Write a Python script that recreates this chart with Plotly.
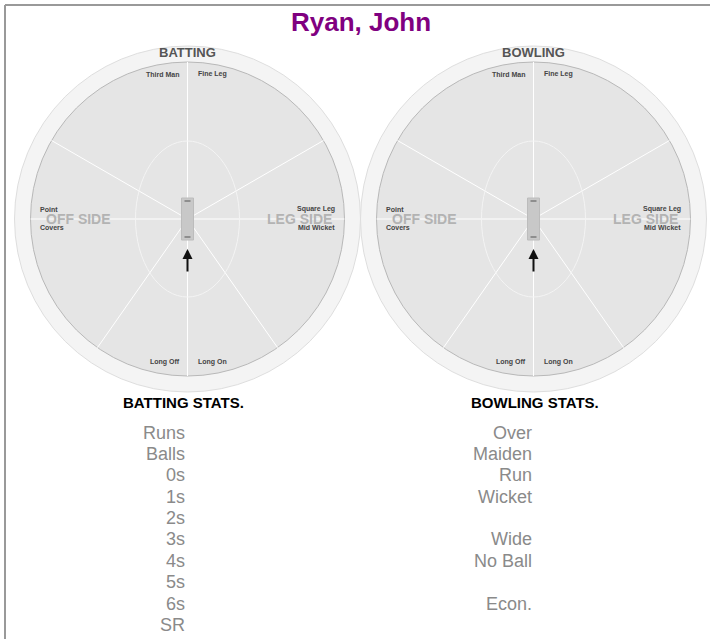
import math
import plotly.graph_objects as go

# ---------------------------------------------------------------------------
# Data
# ---------------------------------------------------------------------------
PLAYER = "Ryan, John"
PANELS = ["BATTING", "BOWLING"]

# fielding zone names
TOP_ZONES = ["Third Man", "Fine Leg"]
BOTTOM_ZONES = ["Long Off", "Long On"]
OFF_ZONES = ["Point", "Covers"]
LEG_ZONES = ["Square Leg", "Mid Wicket"]
SIDES = ["OFF SIDE", "LEG SIDE"]

# sector boundary angles (degrees, counter-clockwise from the leg side)
SECTOR_ANGLES = [90, 30, 0, -55, -90, -125, 180, 150]

BATTING_STATS = ["Runs", "Balls", "0s", "1s", "2s", "3s", "4s", "5s", "6s", "SR"]
BOWLING_STATS = ["Over", "Maiden", "Run", "Wicket", "", "Wide", "No Ball", "", "Econ."]

# ---------------------------------------------------------------------------
# Styles
# ---------------------------------------------------------------------------
FONT = "Liberation Sans, Arial, Helvetica, sans-serif"
PURPLE = "#800080"
RING = "#f4f4f4"
FIELD = "#e5e5e5"
LABEL = "#444444"
SIDE_GREY = "#b3b3b3"
STAT_GREY = "#8a8a8a"

W, H = 710, 639
CY = 219
R_OUT, R_FIELD = 173, 157
CENTRES = [187.5, 533.5]

fig = go.Figure()
shapes = []
annotations = []


def txt(x, y, s, size, color, bold=False, xanchor="center"):
    annotations.append(dict(
        x=x, y=y, text=f"<b>{s}</b>" if bold else s, showarrow=False,
        xanchor=xanchor, yanchor="middle",
        font=dict(family=FONT, size=size, color=color),
    ))


# page frame
shapes.append(dict(type="line", x0=5, x1=W, y0=5, y1=5, line=dict(color="#999999", width=2)))
shapes.append(dict(type="line", x0=5, x1=5, y0=5, y1=H, line=dict(color="#999999", width=2)))

txt(W / 2 + 6, 22, PLAYER, 26, PURPLE, bold=True)

for cx, panel in zip(CENTRES, PANELS):
    # boundary ring and field
    shapes.append(dict(type="circle", x0=cx - R_OUT, x1=cx + R_OUT, y0=CY - R_OUT, y1=CY + R_OUT,
                       fillcolor=RING, line=dict(color="#dedede", width=1)))
    shapes.append(dict(type="circle", x0=cx - R_FIELD, x1=cx + R_FIELD, y0=CY - R_FIELD, y1=CY + R_FIELD,
                       fillcolor=FIELD, line=dict(color="#b8b8b8", width=1)))
    # sector lines
    for a in SECTOR_ANGLES:
        t = math.radians(a)
        shapes.append(dict(type="line", x0=cx, y0=CY,
                           x1=cx + R_FIELD * math.cos(t), y1=CY - R_FIELD * math.sin(t),
                           line=dict(color="white", width=1)))
    # 30-yard circle
    shapes.append(dict(type="circle", x0=cx - 52, x1=cx + 52, y0=CY - 78, y1=CY + 78,
                       line=dict(color="#f4f4f4", width=1)))
    # pitch and creases
    shapes.append(dict(type="rect", x0=cx - 6, x1=cx + 6, y0=CY - 21, y1=CY + 21,
                       fillcolor="#c8c8c8", line=dict(color="#bcbcbc", width=1)))
    for dy in (-18, 18):
        shapes.append(dict(type="line", x0=cx - 3, x1=cx + 3, y0=CY + dy, y1=CY + dy,
                           line=dict(color="#555555", width=1)))
    # batting direction arrow
    annotations.append(dict(x=cx, y=CY + 30, ax=cx, ay=CY + 54, xref="x", yref="y",
                            axref="x", ayref="y", text="", showarrow=True,
                            arrowhead=2, arrowsize=1, arrowwidth=2, arrowcolor="#111111"))

    txt(cx, 52, panel, 13, "#555555", bold=True)
    txt(cx - 7, 74, TOP_ZONES[0], 7, LABEL, bold=True, xanchor="right")
    txt(cx + 8, 74, TOP_ZONES[1], 7, LABEL, bold=True, xanchor="left")
    txt(cx - 6, 362, BOTTOM_ZONES[0], 7, LABEL, bold=True, xanchor="right")
    txt(cx + 8, 362, BOTTOM_ZONES[1], 7, LABEL, bold=True, xanchor="left")
    txt(cx - 150, 209, OFF_ZONES[0], 7, LABEL, bold=True, xanchor="left")
    txt(cx - 150, 227, OFF_ZONES[1], 7, LABEL, bold=True, xanchor="left")
    txt(cx + 149, 209, LEG_ZONES[0], 7, LABEL, bold=True, xanchor="right")
    txt(cx + 149, 227, LEG_ZONES[1], 7, LABEL, bold=True, xanchor="right")
    txt(cx - 144, 219, SIDES[0], 14, SIDE_GREY, bold=True, xanchor="left")
    txt(cx + 146, 219, SIDES[1], 14, SIDE_GREY, bold=True, xanchor="right")

# stats blocks
txt(183.5, 402, "BATTING STATS.", 15, "#000000", bold=True)
txt(534.5, 402, "BOWLING STATS.", 15, "#000000", bold=True)
for i, s in enumerate(BATTING_STATS):
    txt(187, 432.7 + i * 21.35, s, 18, STAT_GREY, xanchor="right")
for i, s in enumerate(BOWLING_STATS):
    if s:
        txt(534, 432.7 + i * 21.35, s, 18, STAT_GREY, xanchor="right")

fig.update_layout(
    width=W, height=H,
    margin=dict(l=0, r=0, t=0, b=0),
    paper_bgcolor="white", plot_bgcolor="white",
    xaxis=dict(range=[0, W], visible=False, fixedrange=True),
    yaxis=dict(range=[H, 0], visible=False, fixedrange=True),
    shapes=shapes, annotations=annotations,
    showlegend=False,
)
# drop the default page margin so the figure sits in the window corner
fig.write_html("out.html", config={"displayModeBar": False},
               post_script="document.body.style.margin='0';")
